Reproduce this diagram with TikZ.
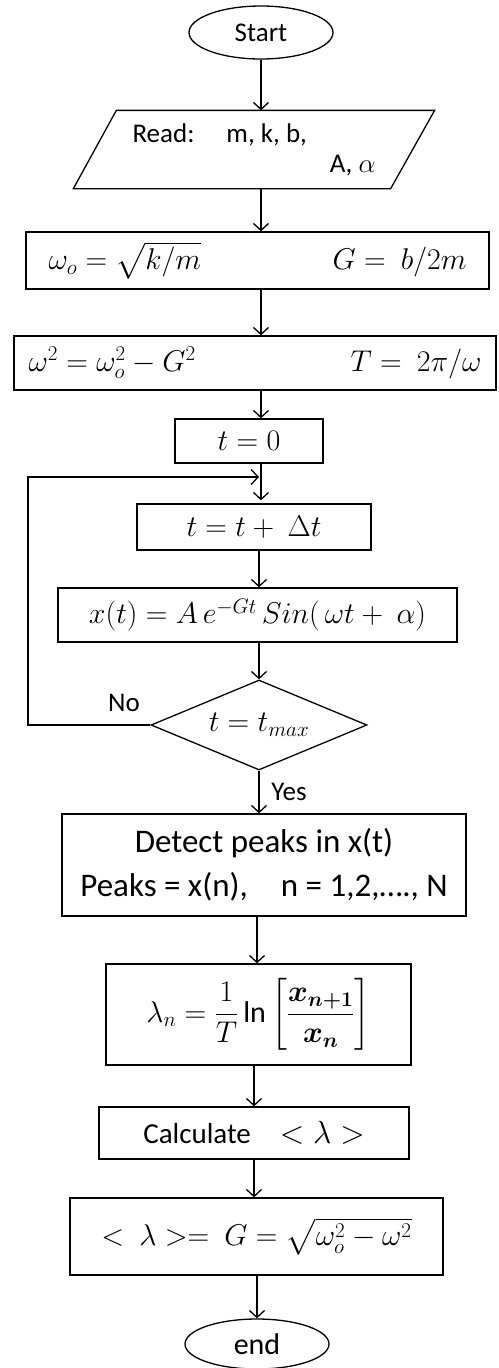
\RequirePackage{fix-cm}
\documentclass[tikz,border=0pt]{standalone}
\usepackage{amsmath,amssymb}
\usepackage{fontspec}
\setmainfont{Carlito}
\usetikzlibrary{shapes.geometric,arrows.meta,calc}
\begin{document}
\begin{tikzpicture}[x=1pt,y=-1pt,line width=1.3pt,
  box/.style={draw,rectangle,inner sep=0pt},
  term/.style={draw,ellipse,inner sep=0pt},
  arr/.style={-{Straight Barb[length=7pt,width=15pt]}},
  txt/.style={font=\fontsize{27pt}{32pt}\selectfont},
  mth/.style={font=\fontsize{30pt}{36pt}\selectfont}]
\useasboundingbox (0,0) rectangle (498,1368);

\node[term,minimum width=144pt,minimum height=53pt,txt] (start) at (261,32.5) {Start};
\node[inner sep=0pt,minimum width=360pt,minimum height=77pt,txt] (read) at (254,149.5)
  {\parbox{243pt}{Read:\hspace{32pt}m, k, b,\\[-2pt]\hspace*{\fill}A, $\alpha$}};
\draw (read.south west) -- ([xshift=43pt]read.north west) -- (read.north east)
  -- ([xshift=-44pt]read.south east) -- cycle;

\node[box,minimum width=463pt,minimum height=57pt,mth] (b1) at (257.5,260.5)
  {\makebox[418pt]{$\omega_o = \sqrt{k/m}$\hfill$G = \ b/2m$}};
\node[box,minimum width=482pt,minimum height=54pt,mth] (b2) at (255,363)
  {\makebox[453pt]{$\omega^2 = \omega_o^2 - G^2$\hfill$T = \ 2\pi/\omega$}};
\node[box,minimum width=148pt,minimum height=44pt,mth] (b3) at (249,441) {$t = 0$};
\node[box,minimum width=234pt,minimum height=46pt,mth] (b4) at (254,527) {$t = t + \ \Delta t$};
\node[box,minimum width=399pt,minimum height=54pt,mth] (b5) at (257.5,615)
  {$x(t) = A\,e^{-Gt}\,Sin(\,\omega t + \ \alpha)$};
\node[draw,diamond,aspect=2.4,inner sep=0pt,minimum width=216pt,minimum height=90pt,mth] (dia) at (259,725)
  {$t = t_{max}$};
\node[box,minimum width=404pt,minimum height=102pt,align=center,font=\fontsize{33pt}{44pt}\selectfont] (b6) at (264,865)
  {Detect peaks in x(t)\\Peaks = x(n),\quad n = 1,2,…., N};
\node[box,minimum width=305pt,minimum height=101pt,mth] (b7) at (258.5,1014.5)
  {$\displaystyle \lambda_n = \frac{1}{T}\ln\left[\frac{\boldsymbol{x_{n+1}}}{\boldsymbol{x_n}}\right]$};
\node[box,minimum width=310pt,minimum height=52pt,font=\fontsize{29pt}{34pt}\selectfont] (b8) at (254,1133)
  {Calculate\quad\fontsize{32pt}{36pt}\selectfont$<\lambda>$};
\node[box,minimum width=373pt,minimum height=77pt,mth] (b9) at (256.5,1236.5)
  {$<\ \lambda> = \ G = \sqrt{\omega_o^2 - \omega^2}$};
\node[term,minimum width=144pt,minimum height=50pt,font=\fontsize{30pt}{36pt}\selectfont] (endn) at (257,1344) {end};

\node[txt] (no) at (124,703) {No};
\node[txt] (yes) at (289,792) {Yes};

\coordinate (lx) at (28,477);
\coordinate (join) at (259,477);

\draw[arr] (start.south) -- (start.south |- read.north);
\draw[arr] (read.south -| start) -- (b1.north -| start);
\draw[arr] (b1.south -| start) -- (b2.north -| start);
\draw[arr] (b2.south -| start) -- (b3.north -| start);
\draw[arr] (b3.south -| start) -- ([yshift=3pt]b4.north -| start);
\draw[arr] (dia.west) -| (lx) -- (join);
\draw[arr] (b4.south -| dia) -- (b5.north -| dia);
\draw[arr] (b5.south -| dia) -- (dia.north);
\draw[arr] (dia.south) -- (dia.south |- b6.north);
\draw[arr] (b6.south -| endn) -- (b7.north -| endn);
\draw[arr] (b7.south -| b8) -- (b8.north);
\draw[arr] (b8.south) -- (b9.north -| b8);
\draw[arr] (b9.south -| endn) -- (endn.north);
\end{tikzpicture}
\end{document}
